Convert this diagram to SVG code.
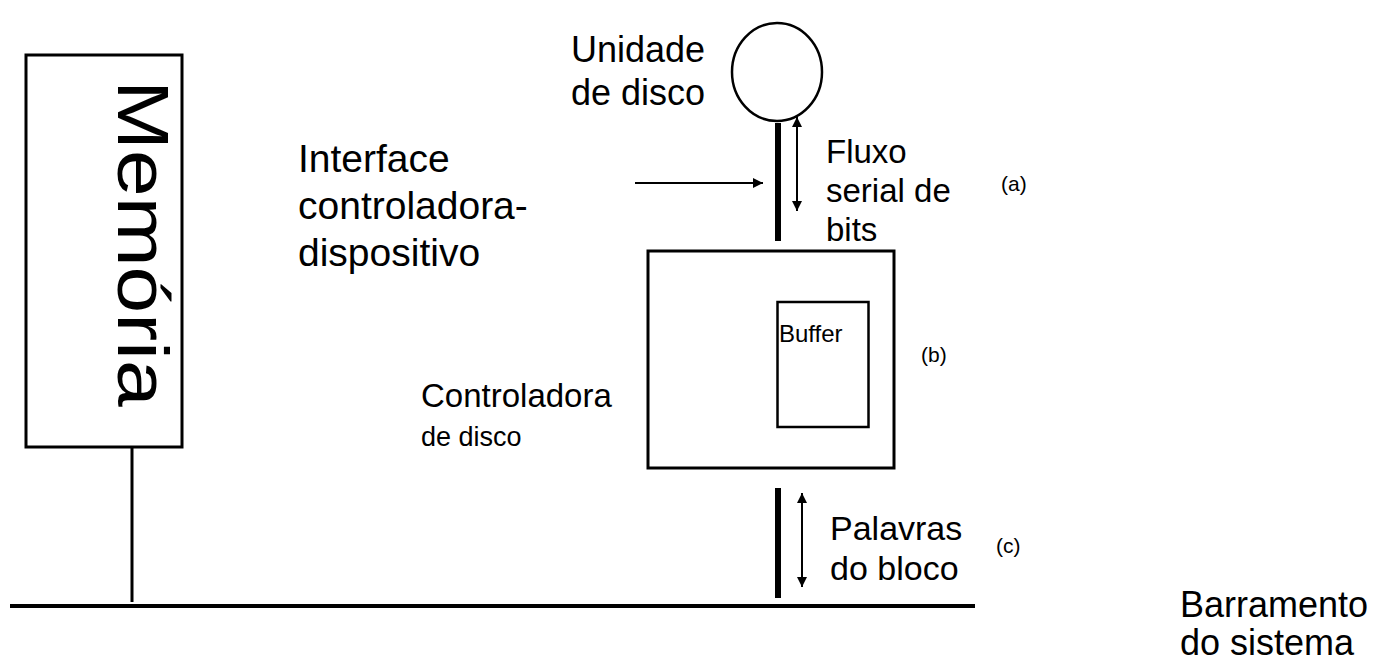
<svg xmlns="http://www.w3.org/2000/svg" width="1382" height="664" viewBox="0 0 1382 664">
<style>
text{font-family:"Liberation Sans",Arial,sans-serif;fill:#000}
.box{fill:#fff;stroke:#000;stroke-width:3}
.ln{stroke:#000;fill:none}
</style>
<defs>
<marker id="ah" viewBox="0 0 10 10" refX="10" refY="5" markerWidth="5" markerHeight="5" orient="auto-start-reverse" markerUnits="strokeWidth">
<path d="M0,0 L10,5 L0,10 z" fill="#000"/>
</marker>
</defs>
<rect width="1382" height="664" fill="#fff"/>
<g id="memoria">
<rect class="box" x="26" y="55" width="156" height="392"/>
<text transform="translate(118,80) rotate(90) scale(1,0.85)" font-size="84">Memória</text>
</g>
<g id="disco">
<ellipse cx="777" cy="72" rx="45" ry="49" fill="#fff" stroke="#000" stroke-width="2.5"/>
<text font-size="36"><tspan x="571" y="62">Unidade</tspan><tspan x="571" y="105">de disco</tspan></text>
</g>
<g id="controladora">
<rect class="box" x="648" y="251" width="246" height="217"/>
<text font-size="33" x="421" y="407">Controladora</text>
<text font-size="27" x="421" y="446">de disco</text>
</g>
<g id="buffer">
<rect x="777.5" y="302" width="91" height="125" fill="none" stroke="#000" stroke-width="2.5"/>
<text font-size="24" x="779" y="342">Buffer</text>
</g>
<g id="barramento">
<line class="ln" x1="10" y1="606" x2="975" y2="606" stroke-width="4"/>
<text font-size="36"><tspan x="1180" y="617">Barramento</tspan><tspan x="1180" y="655">do sistema</tspan></text>
</g>
<g id="labels">
<text font-size="39"><tspan x="298" y="172">Interface</tspan><tspan x="298" y="219">controladora-</tspan><tspan x="298" y="266">dispositivo</tspan></text>
<text font-size="33"><tspan x="826" y="163">Fluxo</tspan><tspan x="826" y="202">serial de</tspan><tspan x="826" y="241">bits</tspan></text>
<text font-size="21" x="1001" y="191">(a)</text>
<text font-size="21" x="921" y="362">(b)</text>
<text font-size="21" x="996" y="553">(c)</text>
<text font-size="34"><tspan x="830" y="540">Palavras</tspan><tspan x="830" y="580">do bloco</tspan></text>
</g>
<g id="connectors">
<line class="ln" x1="132" y1="447" x2="132" y2="602" stroke-width="3"/>
<line class="ln" x1="778" y1="123" x2="778" y2="241" stroke-width="6"/>
<line class="ln" x1="778" y1="488" x2="778" y2="598" stroke-width="6"/>
<line class="ln" x1="635" y1="183" x2="763" y2="183" stroke-width="2" marker-end="url(#ah)"/>
<line class="ln" x1="797" y1="117" x2="797" y2="211" stroke-width="2" marker-start="url(#ah)" marker-end="url(#ah)"/>
<line class="ln" x1="802" y1="493" x2="802" y2="587" stroke-width="2" marker-start="url(#ah)" marker-end="url(#ah)"/>
</g>
</svg>
